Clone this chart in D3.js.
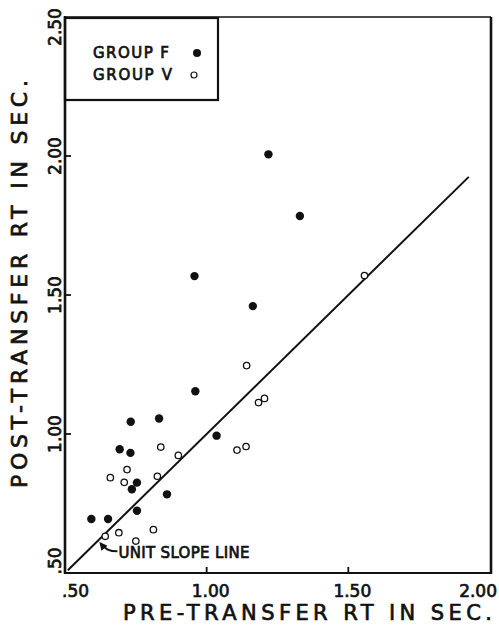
<!DOCTYPE html>
<html>
<head>
<meta charset="UTF-8">
<title>Pre vs post transfer RT</title>
<script src="https://cdnjs.cloudflare.com/ajax/libs/d3/7.8.5/d3.min.js"></script>
<style>
    body { margin: 0; background: #fff; }
    svg { display: block; }
    text { font-family: "DejaVu Sans", sans-serif; fill: #111; stroke: #111; stroke-width: 0.7px; }
</style>
</head>
<body>
<div id="chart"></div>
<script>
    // Group F (filled dots): pre-transfer RT, post-transfer RT
    const groupF_pre  = [1.218, 1.329, 0.957, 1.163, 0.960, 0.732, 0.832, 1.035, 0.693, 0.731, 0.754, 0.736, 0.860, 0.754, 0.593, 0.652];
    const groupF_post = [2.006, 1.784, 1.568, 1.460, 1.154, 1.044, 1.056, 0.994, 0.945, 0.932, 0.825, 0.801, 0.783, 0.724, 0.694, 0.694];

    // Group V (open circles)
    const groupV_pre  = [1.557, 1.141, 1.183, 1.204, 1.107, 1.139, 0.838, 0.900, 0.719, 0.660, 0.709, 0.826, 0.642, 0.690, 0.750, 0.812];
    const groupV_post = [1.570, 1.246, 1.113, 1.128, 0.942, 0.955, 0.953, 0.923, 0.872, 0.843, 0.826, 0.848, 0.632, 0.645, 0.615, 0.656];

    // unit slope line, drawn from .51 to 1.925
    const unitLine = [0.51, 1.925];

    const xTicks = [0.5, 1.0, 1.5, 2.0];
    const yTicks = [0.5, 1.0, 1.5, 2.0, 2.5];
    const xTickLabels = [".50", "1.00", "1.50", "2.00"];
    const yTickLabels = [".50", "1.00", "1.50", "2.00", "2.50"];

    const legendLabels = ["GROUP F", "GROUP V"];

    const width = 499, height = 632;
    const mLeft = 65, mRight = 490, mTop = 17, mBottom = 573;

    const x = d3.scaleLinear().domain([0.5, 2.0]).range([mLeft, mRight]);
    const y = d3.scaleLinear().domain([0.5, 2.5]).range([mBottom, mTop]);

    const svg = d3.select("#chart").append("svg")
        .attr("width", width)
        .attr("height", height);

    // frame
    svg.append("line").attr("x1", mLeft).attr("x2", mRight + 1).attr("y1", mTop).attr("y2", mTop)
        .attr("stroke", "#111").attr("stroke-width", 1.6);
    svg.append("line").attr("x1", mRight + 1).attr("x2", mRight + 1).attr("y1", mTop).attr("y2", mBottom + 1)
        .attr("stroke", "#111").attr("stroke-width", 2.6);
    svg.append("line").attr("x1", mLeft).attr("x2", mRight + 2).attr("y1", mBottom).attr("y2", mBottom)
        .attr("stroke", "#111").attr("stroke-width", 2.2);
    svg.append("line").attr("x1", mLeft).attr("x2", mLeft).attr("y1", mTop - 1).attr("y2", mBottom + 1)
        .attr("stroke", "#111").attr("stroke-width", 2.6);

    // inward ticks
    svg.selectAll("line.xtick")
        .data(xTicks.slice(1, -1))
        .join("line")
        .attr("class", "xtick")
        .attr("x1", d => x(d)).attr("x2", d => x(d))
        .attr("y1", mBottom).attr("y2", mBottom - 6)
        .attr("stroke", "#111").attr("stroke-width", 1.8);

    svg.selectAll("line.ytick")
        .data(yTicks.slice(1, -1))
        .join("line")
        .attr("class", "ytick")
        .attr("x1", mLeft).attr("x2", mLeft + 6)
        .attr("y1", d => y(d)).attr("y2", d => y(d))
        .attr("stroke", "#111").attr("stroke-width", 1.8);

    // tick labels
    svg.selectAll("text.xlab")
        .data(xTicks)
        .join("text")
        .attr("class", "xlab")
        .attr("x", (d, i) => i === 0 ? x(d) - 3 : i === xTicks.length - 1 ? x(d) + 7 : x(d) + 4)
        .attr("y", 597)
        .attr("text-anchor", (d, i) => i === 0 ? "start" : i === xTicks.length - 1 ? "end" : "middle")
        .attr("font-size", 17)
        .text((d, i) => xTickLabels[i]);

    svg.selectAll("text.ylab")
        .data(yTicks)
        .join("text")
        .attr("class", "ylab")
        .attr("transform", d => `translate(61,${Math.max(27, Math.min(561, y(d)))}) rotate(-90)`)
        .attr("text-anchor", "middle")
        .attr("font-size", 17)
        .text((d, i) => yTickLabels[i]);

    // axis titles
    svg.append("text")
        .attr("x", 123).attr("y", 620)
        .attr("font-size", 21)
        .attr("textLength", 369)
        .attr("lengthAdjust", "spacing")
        .text("PRE-TRANSFER  RT  IN  SEC.");

    svg.append("text")
        .attr("transform", "translate(27,488) rotate(-90)")
        .attr("font-size", 22)
        .attr("textLength", 408)
        .attr("lengthAdjust", "spacing")
        .text("POST-TRANSFER  RT  IN  SEC.");

    // unit slope line
    svg.append("line")
        .attr("x1", x(unitLine[0])).attr("y1", y(unitLine[0]))
        .attr("x2", x(unitLine[1])).attr("y2", y(unitLine[1]))
        .attr("stroke", "#111").attr("stroke-width", 2);

    // annotation with hooked arrow
    svg.append("defs").append("marker")
        .attr("id", "head")
        .attr("viewBox", "0 0 10 10")
        .attr("refX", 8).attr("refY", 5)
        .attr("markerUnits", "userSpaceOnUse")
        .attr("markerWidth", 8).attr("markerHeight", 8)
        .attr("orient", "auto")
        .append("path").attr("d", "M0,0 L10,5 L0,10 Z").attr("fill", "#111");

    const ax = x(0.685), ay = y(0.578);
    svg.append("path")
        .attr("d", `M${ax},${ay} C${ax - 8},${ay} ${ax - 12},${ay - 2} ${ax - 17},${ay - 8}`)
        .attr("fill", "none")
        .attr("stroke", "#111").attr("stroke-width", 2)
        .attr("marker-end", "url(#head)");

    svg.append("text")
        .attr("x", ax + 1).attr("y", ay + 7)
        .attr("font-size", 15)
        .attr("textLength", 131)
        .attr("lengthAdjust", "spacing")
        .text("UNIT SLOPE LINE");

    // points
    svg.selectAll("circle.f")
        .data(groupF_pre)
        .join("circle")
        .attr("class", "f")
        .attr("cx", d => x(d))
        .attr("cy", (d, i) => y(groupF_post[i]))
        .attr("r", 4.2)
        .attr("fill", "#111");

    svg.selectAll("circle.v")
        .data(groupV_pre)
        .join("circle")
        .attr("class", "v")
        .attr("cx", d => x(d))
        .attr("cy", (d, i) => y(groupV_post[i]))
        .attr("r", 3.2)
        .attr("fill", "#fff")
        .attr("stroke", "#111")
        .attr("stroke-width", 1.3);

    // legend box
    svg.append("rect")
        .attr("x", mLeft).attr("y", mTop + 1)
        .attr("width", 153).attr("height", 82)
        .attr("fill", "none")
        .attr("stroke", "#111").attr("stroke-width", 2.2);

    const legend = svg.selectAll("g.leg")
        .data(legendLabels)
        .join("g")
        .attr("class", "leg")
        .attr("transform", (d, i) => `translate(93,${58 + i * 22})`);

    legend.append("text")
        .attr("font-size", 15)
        .attr("textLength", (d, i) => i === 0 ? 76 : 79)
        .attr("lengthAdjust", "spacing")
        .text(d => d);

    legend.append("circle")
        .attr("cx", (d, i) => i === 0 ? 104 : 101)
        .attr("cy", -5)
        .attr("r", (d, i) => i === 0 ? 4 : 3)
        .attr("fill", (d, i) => i === 0 ? "#111" : "#fff")
        .attr("stroke", "#111")
        .attr("stroke-width", (d, i) => i === 0 ? 0 : 1.2);
</script>
</body>
</html>
